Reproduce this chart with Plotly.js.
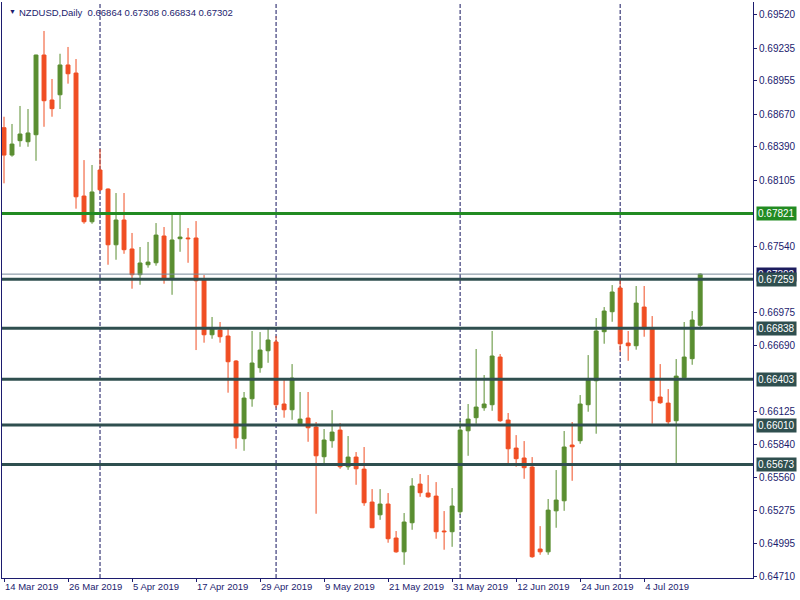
<!DOCTYPE html>
<html><head><meta charset="utf-8">
<script src="https://cdn.plot.ly/plotly-3.0.1.min.js"></script>
<style>html,body{margin:0;padding:0;background:#fff}#chart{width:800px;height:600px}</style>
</head><body><div id="chart"></div>
<script>
const dates = [
'2019-03-14','2019-03-15','2019-03-18','2019-03-19','2019-03-20','2019-03-21','2019-03-22','2019-03-25','2019-03-26','2019-03-27','2019-03-28','2019-03-29',
'2019-04-01','2019-04-02','2019-04-03','2019-04-04','2019-04-05','2019-04-08','2019-04-09','2019-04-10','2019-04-11','2019-04-12','2019-04-15','2019-04-16','2019-04-17','2019-04-18','2019-04-19','2019-04-22','2019-04-23','2019-04-24','2019-04-25','2019-04-26','2019-04-29','2019-04-30',
'2019-05-01','2019-05-02','2019-05-03','2019-05-06','2019-05-07','2019-05-08','2019-05-09','2019-05-10','2019-05-13','2019-05-14','2019-05-15','2019-05-16','2019-05-17','2019-05-20','2019-05-21','2019-05-22','2019-05-23','2019-05-24','2019-05-27','2019-05-28','2019-05-29','2019-05-30','2019-05-31',
'2019-06-03','2019-06-04','2019-06-05','2019-06-06','2019-06-07','2019-06-10','2019-06-11','2019-06-12','2019-06-13','2019-06-14','2019-06-17','2019-06-18','2019-06-19','2019-06-20','2019-06-21','2019-06-24','2019-06-25','2019-06-26','2019-06-27','2019-06-28',
'2019-07-01','2019-07-02','2019-07-03','2019-07-04','2019-07-05','2019-07-08','2019-07-09','2019-07-10','2019-07-11','2019-07-12','2019-07-15'
];
const openP = [
0.68555,0.68321,0.68444,0.68435,0.68495,0.69177,0.68792,0.68837,0.69092,0.69023,0.67970,0.67750,
0.68193,0.68030,0.67553,0.67765,0.67517,0.67297,0.67382,0.67399,0.67628,0.67262,0.67605,0.67611,0.67611,0.67251,0.66783,0.66823,0.66772,0.66558,0.65893,0.66235,0.66501,0.66646,
0.66721,0.66190,0.66141,0.66021,0.66070,0.65993,0.65739,0.65876,0.65967,0.65653,0.65736,0.65633,0.65351,0.65242,0.65334,0.65043,0.64925,0.65174,0.65505,0.65428,0.65402,0.65103,0.65097,
0.65268,0.65961,0.66073,0.66158,0.66184,0.66592,0.66053,0.65813,0.65728,0.65651,0.64949,0.64925,0.65276,0.65362,0.65839,0.65876,0.66184,0.66389,0.66809,0.66980,
0.67183,0.66712,0.66689,0.67020,0.66840,0.66250,0.66198,0.66047,0.66415,0.66578,0.66864
];
const highP = [
0.68649,0.68587,0.68741,0.68715,0.69180,0.69383,0.68972,0.69188,0.69246,0.69143,0.68278,0.68236,
0.68373,0.68036,0.67996,0.67996,0.67654,0.67534,0.67577,0.67739,0.67705,0.67825,0.67825,0.67696,0.67756,0.67294,0.66935,0.66892,0.66840,0.66566,0.66293,0.66815,0.66806,0.66849,
0.66772,0.66395,0.66532,0.66293,0.66293,0.66036,0.65976,0.66138,0.66027,0.65916,0.65779,0.65822,0.65462,0.65462,0.65428,0.65103,0.65257,0.65556,0.65591,0.65582,0.65522,0.65274,0.65471,
0.66044,0.66190,0.66661,0.66438,0.66815,0.66618,0.66113,0.65924,0.65873,0.65736,0.65145,0.65377,0.65625,0.65959,0.66036,0.66267,0.66609,0.66926,0.67020,0.67208,
0.67268,0.66815,0.67200,0.67200,0.66943,0.66532,0.66318,0.66575,0.66892,0.66986,0.67308
];
const lowP = [
0.68079,0.68307,0.68392,0.68392,0.68272,0.68563,0.68649,0.68715,0.68932,0.67862,0.67733,0.67733,
0.68013,0.67382,0.67425,0.67476,0.67177,0.67211,0.67357,0.67374,0.67220,0.67125,0.67493,0.67399,0.66652,0.66715,0.66749,0.66715,0.66287,0.65807,0.65790,0.66167,0.66458,0.66543,
0.66158,0.66073,0.66055,0.66004,0.65867,0.65251,0.65679,0.65816,0.65636,0.65627,0.65499,0.65319,0.65128,0.65199,0.65003,0.64917,0.64814,0.65114,0.65396,0.65388,0.65037,0.64943,0.64968,
0.65242,0.65747,0.66021,0.66132,0.66132,0.66038,0.65679,0.65653,0.65550,0.64874,0.64900,0.64900,0.65131,0.65276,0.65533,0.65850,0.66124,0.65936,0.66706,0.66894,
0.66635,0.66560,0.66655,0.66766,0.66021,0.66192,0.66004,0.65670,0.66398,0.66526,0.66834
];
const closeP = [
0.68321,0.68415,0.68501,0.68510,0.69177,0.68786,0.68718,0.69092,0.69017,0.67964,0.67750,0.68005,
0.68024,0.67553,0.67765,0.67511,0.67297,0.67397,0.67405,0.67636,0.67262,0.67594,0.67619,0.67605,0.67245,0.66783,0.66832,0.66766,0.66552,0.65901,0.66241,0.66541,0.66652,0.66738,
0.66184,0.66141,0.66412,0.66061,0.65987,0.65747,0.65882,0.65950,0.65653,0.65736,0.65636,0.65345,0.65131,0.65334,0.65037,0.64925,0.65180,0.65488,0.65431,0.65396,0.65097,0.65097,0.65317,
0.65967,0.66061,0.66164,0.66190,0.66601,0.66047,0.65807,0.65722,0.65645,0.64883,0.64925,0.65282,0.65368,0.65822,0.65824,0.66190,0.66395,0.66815,0.66986,0.67149,
0.66706,0.66689,0.67054,0.66834,0.66218,0.66201,0.66038,0.66429,0.66592,0.66909,0.67302
];
const tickDates = ['2019-03-14','2019-03-26','2019-04-05','2019-04-17','2019-04-29','2019-05-09','2019-05-21','2019-05-31','2019-06-12','2019-06-24','2019-07-04'];
const tickLabels = ['14 Mar 2019','26 Mar 2019','5 Apr 2019','17 Apr 2019','29 Apr 2019','9 May 2019','21 May 2019','31 May 2019','12 Jun 2019','24 Jun 2019','4 Jul 2019'];
const yTickVals = [0.69520,0.69235,0.68955,0.68670,0.68390,0.68105,0.67540,0.66975,0.66690,0.66125,0.65840,0.65560,0.65275,0.64995,0.64710];
const yTickLabels = ['0.69520','0.69235','0.68955','0.68670','0.68390','0.68105','0.67540','0.66975','0.66690','0.66125','0.65840','0.65560','0.65275','0.64995','0.64710'];
const separatorDates = ['2019-04-01','2019-05-01','2019-06-03','2019-07-01'];
const resistanceLevel = 0.67821;
const levelPrices = [0.67259,0.66838,0.66403,0.66010,0.65673];
const levelLabels = ['0.67259','0.66838','0.66403','0.66010','0.65673'];
const bidPrice = 0.67302;
const headerText = 'NZDUSD,Daily  0.66864 0.67308 0.66834 0.67302';

const NAVY = '#1c1c6e';
const FONT = 'Liberation Sans, Arial, sans-serif';

const trace = {
  type: 'candlestick', x: dates, open: openP, high: highP, low: lowP, close: closeP,
  increasing: {line: {color: '#5a8e31', width: 1}, fillcolor: '#5a8e31'},
  decreasing: {line: {color: '#f04e23', width: 1}, fillcolor: '#f04e23'},
  whiskerwidth: 0, hoverinfo: 'none'
};

const shapes = [];
separatorDates.forEach(d => shapes.push({type:'line', xref:'x', yref:'paper', x0:d, x1:d, y0:0, y1:1,
  line:{color:'#14145e', width:1, dash:'4px,2px'}, layer:'below'}));
shapes.push({type:'line', xref:'paper', yref:'y', x0:0, x1:1, y0:bidPrice, y1:bidPrice, line:{color:'#778899', width:1}});
shapes.push({type:'line', xref:'paper', yref:'y', x0:0, x1:1, y0:resistanceLevel, y1:resistanceLevel, line:{color:'#228b22', width:3}});
levelPrices.forEach(p => shapes.push({type:'line', xref:'paper', yref:'y', x0:0, x1:1, y0:p, y1:p, line:{color:'#2f4f4f', width:3}}));

const annotations = [];
function priceLabel(p, txt, bg) {
  annotations.push({xref:'paper', x:1, xanchor:'left', xshift:3, yref:'y', y:p, yanchor:'middle', text:txt,
    showarrow:false, bgcolor:bg, borderpad:1, font:{family:FONT, size:10, color:'#ffffff'}});
}
priceLabel(bidPrice, '0.67302', '#1c1c5e');
priceLabel(resistanceLevel, '0.67821', '#228b22');
levelPrices.forEach((p,i) => priceLabel(p, levelLabels[i], '#2f4f4f'));
annotations.push({xref:'paper', yref:'paper', x:0, y:1, xanchor:'left', yanchor:'top', xshift:5, yshift:-4,
  text:'▼', showarrow:false, font:{family:FONT, size:7, color:NAVY}});
annotations.push({xref:'paper', yref:'paper', x:0, y:1, xanchor:'left', yanchor:'top', xshift:15, yshift:-3,
  text:headerText, showarrow:false, font:{family:FONT, size:9.5, color:NAVY}});

const layout = {
  width: 800, height: 600,
  margin: {l: 2, r: 47, t: 2, b: 22, pad: 0},
  paper_bgcolor: '#ffffff', plot_bgcolor: '#ffffff',
  showlegend: false,
  xaxis: {type:'category', range:[-0.25, 93.6], rangeslider:{visible:false}, showgrid:false, zeroline:false,
    showline:true, linecolor:NAVY, linewidth:1, ticks:'outside', ticklen:3, tickcolor:NAVY,
    tickmode:'array', tickvals:tickDates, ticktext:tickLabels, ticklabelposition:'outside right',
    tickfont:{family:FONT, size:9.5, color:NAVY}, fixedrange:true},
  yaxis: {side:'right', range:[0.64701, 0.69631], showgrid:false, zeroline:false, showline:true, mirror:true,
    linecolor:NAVY, linewidth:1, ticks:'outside', ticklen:3, tickcolor:NAVY,
    tickmode:'array', tickvals:yTickVals, ticktext:yTickLabels,
    tickfont:{family:FONT, size:10, color:NAVY}, fixedrange:true},
  shapes: shapes,
  annotations: annotations
};
Plotly.newPlot('chart', [trace], layout, {staticPlot:true, displayModeBar:false});
</script></body></html>
